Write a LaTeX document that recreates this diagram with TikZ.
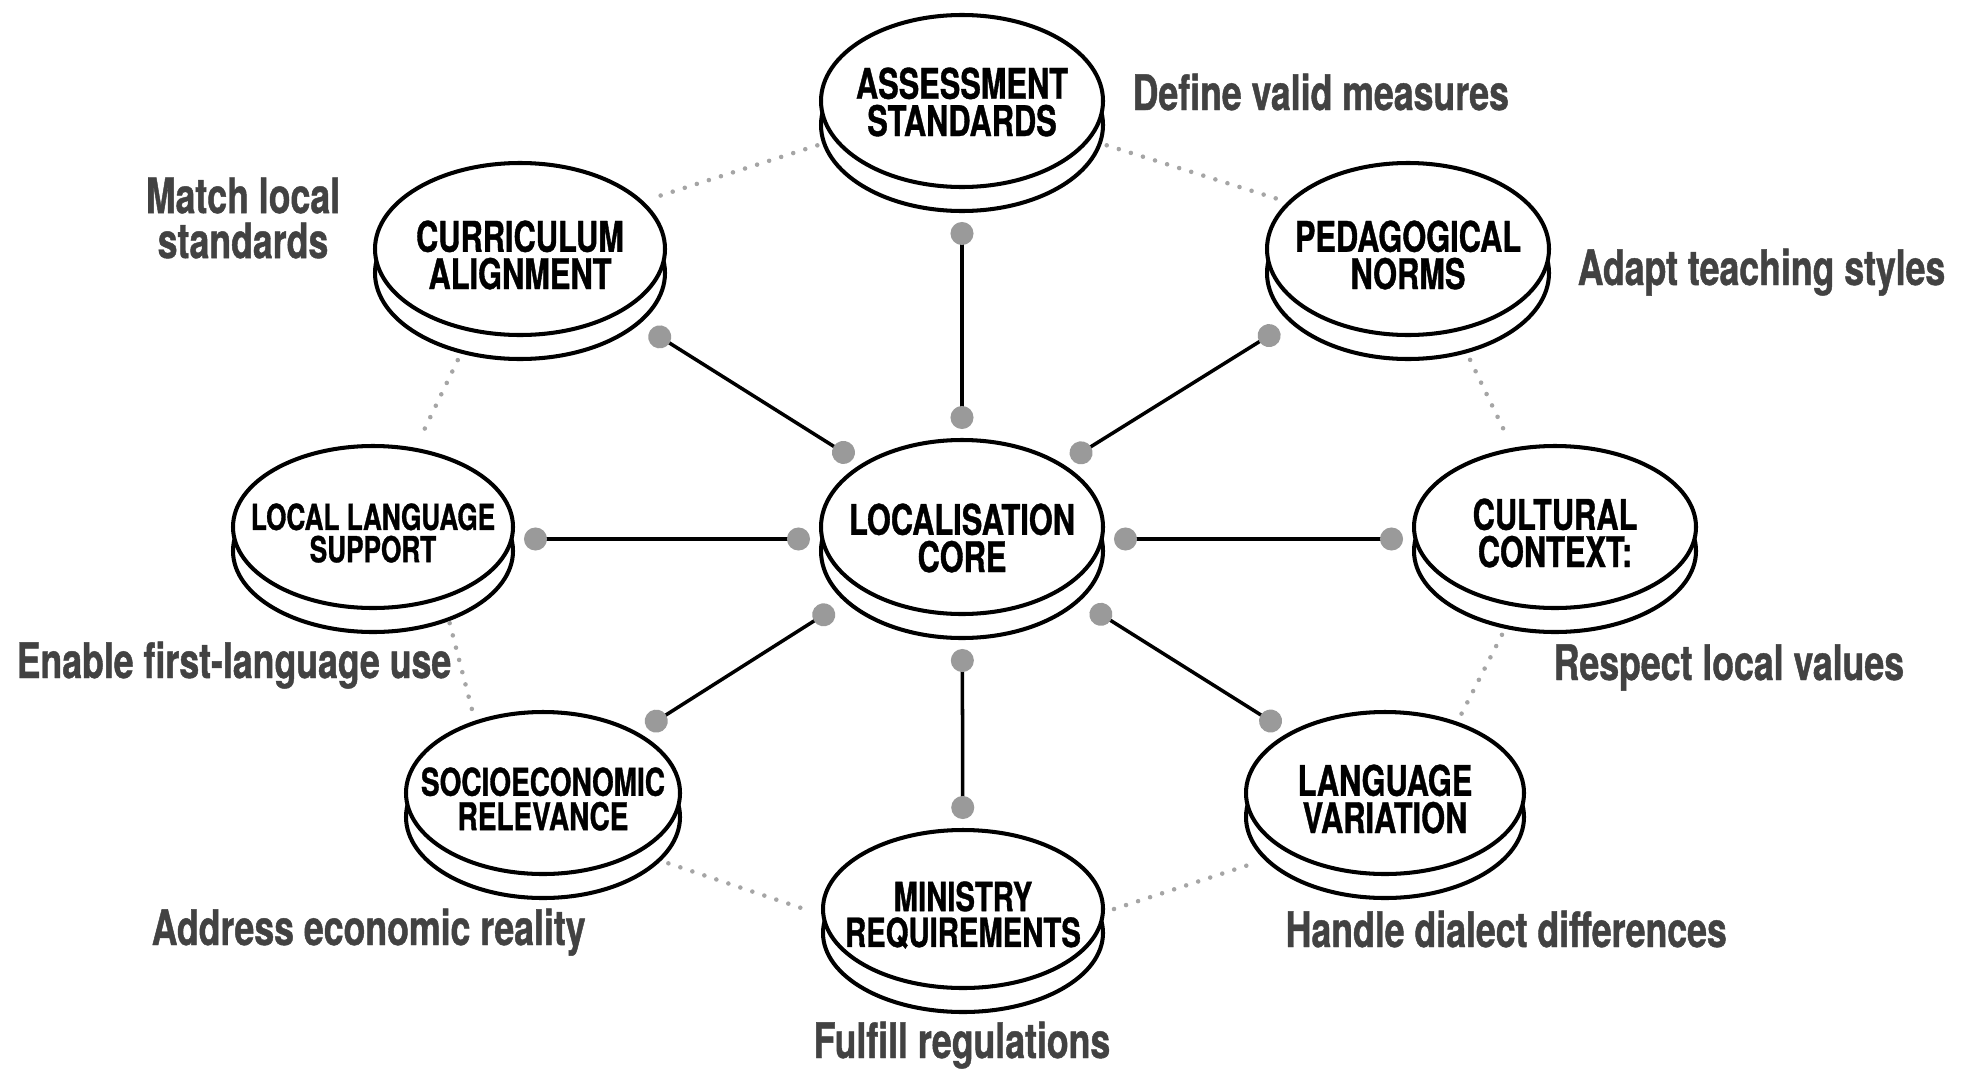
\documentclass[tikz,border=0pt]{standalone}
\usepackage{fontspec}
\setmainfont{TeX Gyre Heros}[FakeStretch=0.73, BoldFeatures={FakeBold=0.9}]
\usetikzlibrary{positioning}
\usetikzlibrary{arrows.meta}
\usetikzlibrary{shapes.geometric}
\usetikzlibrary{shadows}
\definecolor{dotgray}{RGB}{154,154,154}
\definecolor{ringgray}{RGB}{165,165,165}
\definecolor{notegray}{RGB}{66,66,66}

\tikzset{
    disk/.style={ellipse, draw=black, line width=1.15pt, fill=white,
        minimum width=28.2mm, minimum height=16.2mm, outer sep=1.1mm,
        copy shadow={shadow xshift=0mm, shadow yshift=-2.4mm,
            draw=black, fill=white, line width=1.15pt}},
    disktext/.style={font=\bfseries\fontsize{12}{10.6}\selectfont,
        align=center, inner sep=0pt, yshift=-0.6mm},
    note/.style={font=\bfseries\fontsize{13.9}{12.8}\selectfont,
        text=notegray, inner sep=0pt},
    link/.style={line width=1pt,
        {Circle[length=2.3mm, color=dotgray]}-{Circle[length=2.3mm, color=dotgray]}},
    ring/.style={draw=ringgray, line width=1.3pt, dash pattern=on 0pt off 3.6pt,
        line cap=round},
}

\begin{document}
\begin{tikzpicture}[x=0.1mm, y=-0.1mm]
    \useasboundingbox (0,0) rectangle (1973,1070);

    % disks
    \node[disk, minimum height=17.2mm] (assess) at (962,101) {};
    \node[disk, minimum height=17.2mm, minimum width=29mm] (curr) at (520,249) {};
    \node[disk, minimum height=17.2mm] (peda) at (1408,249) {};
    \node[disk, minimum width=28mm] (lls) at (373,527) {};
    \node[disk, minimum height=17.4mm] (core) at (962,527) {};
    \node[disk] (cult) at (1555,527) {};
    \node[disk, minimum width=27.4mm] (socio) at (543,793) {};
    \node[disk, minimum width=28mm, minimum height=15.8mm] (mini) at (963,909) {};
    \node[disk, minimum width=27.8mm] (lv) at (1385,793) {};

    % disk captions
    \node[disktext, yshift=0.5mm] (assess-t) at (assess) {ASSESSMENT\\STANDARDS};
    \node[disktext] (curr-t) at (curr) {CURRICULUM\\ALIGNMENT};
    \node[disktext] (peda-t) at (peda) {PEDAGOGICAL\\NORMS};
    \node[disktext, font=\bfseries\fontsize{10.2}{9.2}\selectfont] (lls-t) at (lls) {LOCAL LANGUAGE\\SUPPORT};
    \node[disktext, yshift=-0.5mm] (core-t) at (core) {LOCALISATION\\CORE};
    \node[disktext] (cult-t) at (cult) {CULTURAL\\CONTEXT:};
    \node[disktext, font=\bfseries\fontsize{10.9}{9.8}\selectfont] (socio-t) at (socio) {SOCIOECONOMIC\\RELEVANCE};
    \node[disktext, font=\bfseries\fontsize{11.4}{10.2}\selectfont] (mini-t) at (mini) {MINISTRY\\REQUIREMENTS};
    \node[disktext] (lv-t) at (lv) {LANGUAGE\\VARIATION};

    % spokes from the core
    \draw[link, shorten >=2.4mm] (core) -- (assess);
    \draw[link, shorten >=2.4mm] (core) -- (curr);
    \draw[link, shorten >=2.4mm] (core) -- (peda);
    \draw[link] ([yshift=-1.2mm]core.west) -- ([yshift=-1.2mm]lls.east);
    \draw[link] ([yshift=-1.2mm]core.east) -- ([yshift=-1.2mm]cult.west);
    \draw[link, shorten <=2.4mm] (core) -- (socio);
    \draw[link, shorten <=2.4mm] (core) -- (mini);
    \draw[link, shorten <=2.4mm] (core) -- (lv);

    % dotted outer ring
    \draw[ring, shorten <=0.8mm] (assess.197) -- (curr.21);
    \draw[ring, shorten <=0.8mm] (assess.-17) -- (peda.159);
    \draw[ring, shorten <=2.2mm] (curr.240) -- (lls.62);
    \draw[ring, shorten <=2.2mm] (peda.-60) -- (cult.118);
    \draw[ring, shorten <=1.6mm] (lls.-48) -- (socio.131);
    \draw[ring, shorten <=2.2mm] (cult.244) -- (lv.46);
    \draw[ring, shorten <=2mm] (socio.-31) -- (mini.181);
    \draw[ring, shorten >=2mm] (mini.0) -- (lv.210);

    % notes
    \node[note, anchor=base west] (assess-n) at (1132,110) {Define valid measures};
    \node[note, anchor=base west] (peda-n) at (1577,285) {Adapt teaching styles};
    \node[note, align=center] (curr-n) at (243,218) {Match local\\standards};
    \node[note, anchor=base west] (lls-n) at (16,678) {Enable first-language use};
    \node[note, anchor=base west] (cult-n) at (1553,680) {Respect local values};
    \node[note, anchor=base west] (socio-n) at (151,945) {Address economic reality};
    \node[note, anchor=base west] (lv-n) at (1285,947) {Handle dialect differences};
    \node[note, anchor=base] (mini-n) at (962,1058) {Fulfill regulations};
\end{tikzpicture}
\end{document}
